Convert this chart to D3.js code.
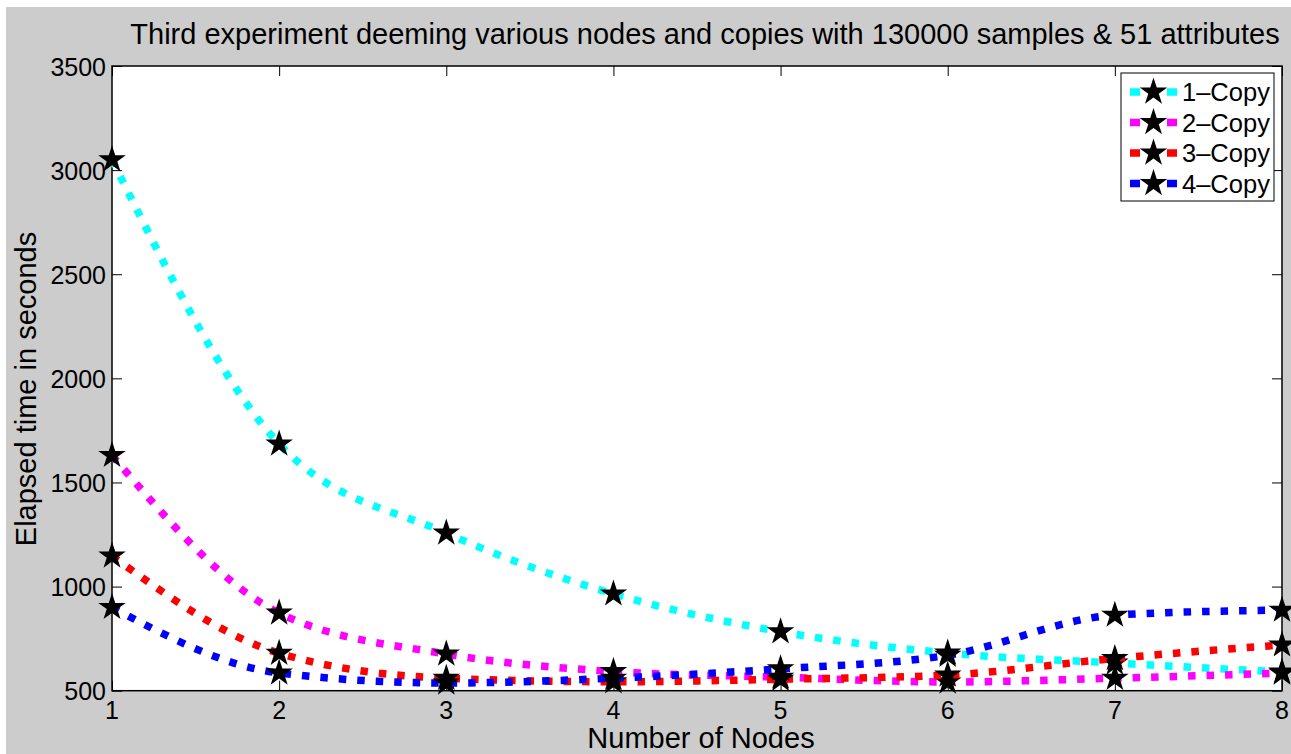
<!DOCTYPE html>
<html>
<head>
<meta charset="utf-8">
<script src="https://cdn.jsdelivr.net/npm/d3@7"></script>
<style>
  html, body { margin: 0; padding: 0; background: #ffffff; }
  svg { display: block; }
  text { font-family: "Liberation Sans", Arial, Helvetica, sans-serif; fill: #000; }
</style>
</head>
<body>
<svg id="chart" width="1291" height="754"></svg>
<script>
// Elapsed time (s) per number of nodes, one array per replication level
const nodes = [1, 2, 3, 4, 5, 6, 7, 8];
const copy1 = [3050, 1685, 1257, 965, 783, 681, 633, 590];
const copy2 = [1630, 873, 676, 592, 565, 542, 560, 585];
const copy3 = [1147, 680, 560, 543, 555, 575, 655, 720];
const copy4 = [900, 585, 537, 560, 605, 670, 863, 887];
const seriesNames = ["1\u2013Copy", "2\u2013Copy", "3\u2013Copy", "4\u2013Copy"];
const seriesColors = ["#00ffff", "#ff00ff", "#ff0000", "#0000ff"];
const yTicks = [500, 1000, 1500, 2000, 2500, 3000, 3500];
const xTicks = [1, 2, 3, 4, 5, 6, 7, 8];

const titleText = "Third experiment deeming various nodes and copies with 130000 samples & 51 attributes";
const xLabel = "Number of Nodes";
const yLabel = "Elapsed time in seconds";

const W = 1291, H = 754;
const box = { left: 112, right: 1282, top: 66, bottom: 690.7 };

const svg = d3.select("#chart");

// figure background
svg.append("rect").attr("x", 6).attr("y", 7).attr("width", W - 6).attr("height", H - 7)
  .attr("fill", "#cccccc");

// axes area
svg.append("rect")
  .attr("x", box.left).attr("y", box.top)
  .attr("width", box.right - box.left).attr("height", box.bottom - box.top)
  .attr("fill", "#ffffff");

const x = d3.scaleLinear().domain([1, 8]).range([box.left, box.right]);
const y = d3.scaleLinear().domain([500, 3500]).range([box.bottom, box.top]);

const tickFont = 25;
const labelFont = 29;
const legendFont = 25.5;
const tickLen = 10;

// inward ticks on all four sides
const axisG = svg.append("g");
axisG.append("g").attr("transform", `translate(0,${box.bottom})`)
  .call(d3.axisTop(x).tickValues(xTicks).tickSize(tickLen).tickFormat(""));
axisG.append("g").attr("transform", `translate(0,${box.top})`)
  .call(d3.axisBottom(x).tickValues(xTicks).tickSize(tickLen).tickFormat(""));
axisG.append("g").attr("transform", `translate(${box.left},0)`)
  .call(d3.axisRight(y).tickValues(yTicks).tickSize(tickLen).tickFormat(""));
axisG.append("g").attr("transform", `translate(${box.right},0)`)
  .call(d3.axisLeft(y).tickValues(yTicks).tickSize(tickLen).tickFormat(""));
axisG.selectAll(".domain").remove();
axisG.selectAll(".tick line").attr("stroke", "#000").attr("stroke-width", 1);

// tick labels
svg.append("g").selectAll("text").data(xTicks).join("text")
  .attr("x", d => x(d)).attr("y", box.bottom + 28.5)
  .attr("text-anchor", "middle").attr("font-size", tickFont)
  .text(d => d);
svg.append("g").selectAll("text").data(yTicks).join("text")
  .attr("x", box.left - 6).attr("y", d => y(d) + 9.5)
  .attr("text-anchor", "end").attr("font-size", tickFont)
  .text(d => d);

// axis box
svg.append("rect")
  .attr("x", box.left).attr("y", box.top)
  .attr("width", box.right - box.left).attr("height", box.bottom - box.top)
  .attr("fill", "none").attr("stroke", "#000").attr("stroke-width", 1.5);

// titles
svg.append("text").attr("x", 705).attr("y", 43.5)
  .attr("text-anchor", "middle").attr("font-size", labelFont).text(titleText);
svg.append("text").attr("x", 701).attr("y", 748)
  .attr("text-anchor", "middle").attr("font-size", labelFont).text(xLabel);
svg.append("text")
  .attr("transform", `translate(36,389) rotate(-90)`)
  .attr("text-anchor", "middle").attr("font-size", labelFont).text(yLabel);

// series
const allSeries = [copy1, copy2, copy3, copy4];
const line = d3.line()
  .x((d, i) => x(nodes[i]))
  .y(d => y(d))
  .curve(d3.curveMonotoneX);
const star = d3.symbol().type(d3.symbolStar).size(235);

const plotG = svg.append("g");
allSeries.forEach((vals, k) => {
  plotG.append("path")
    .datum(vals)
    .attr("d", line)
    .attr("fill", "none")
    .attr("stroke", seriesColors[k])
    .attr("stroke-width", 7.5)
    .attr("stroke-dasharray", "7.5,11");
  plotG.append("g").selectAll("path").data(vals).join("path")
    .attr("transform", (d, i) => `translate(${x(nodes[i])},${y(d)})`)
    .attr("d", star)
    .attr("fill", "#000");
});

// legend
const lg = svg.append("g");
lg.append("rect").attr("x", 1121).attr("y", 73).attr("width", 153).attr("height", 128)
  .attr("fill", "#ffffff").attr("stroke", "#000").attr("stroke-width", 1);
seriesNames.forEach((name, k) => {
  const cy = 92 + k * 30.5;
  lg.append("line").attr("x1", 1130).attr("x2", 1177).attr("y1", cy).attr("y2", cy)
    .attr("stroke", seriesColors[k]).attr("stroke-width", 7.5)
    .attr("stroke-dasharray", "10,27");
  lg.append("path").attr("transform", `translate(1153.5,${cy})`).attr("d", star).attr("fill", "#000");
  lg.append("text").attr("x", 1182).attr("y", cy + 9).attr("font-size", legendFont).text(name);
});
</script>
</body>
</html>
